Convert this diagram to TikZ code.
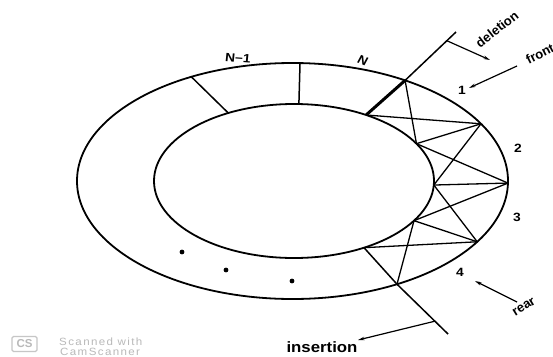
\documentclass[tikz,border=0pt]{standalone}
\usepackage{fontspec}
\setmainfont{Liberation Sans}
\usetikzlibrary{calc,arrows.meta}
\begin{document}
\begin{tikzpicture}[x=1pt,y=-1pt,
  ring/.style={line width=1.8pt},
  web/.style={line width=1.3pt},
  heavy/.style={line width=3pt},
  pointer/.style={line width=1.2pt,-{Stealth[length=6.5pt,width=3.4pt]}},
  lab/.style={font=\bfseries\fontsize{12}{12}\selectfont,xscale=1.15,inner sep=0pt},
  word/.style={font=\bfseries\fontsize{13}{13}\selectfont,inner sep=0pt},
  wmark/.style={gray!55,inner sep=0pt}]
\useasboundingbox (0,0) rectangle (553,356);
\fill[white] (0,0) rectangle (553,356);
% ring
\coordinate (co) at (292.5,181);
\coordinate (ci) at (294,181);
\draw[ring] (co) ellipse [x radius=215.5pt, y radius=118pt];
\draw[ring] (ci) ellipse [x radius=140pt, y radius=77pt];
% points on outer / inner ellipse
\coordinate (O0) at ($(co)+(58.5:215.5 and -118)$);
\coordinate (O1) at ($(co)+(29:215.5 and -118)$);
\coordinate (O2) at ($(co)+(-1:215.5 and -118)$);
\coordinate (O3) at ($(co)+(-31:215.5 and -118)$);
\coordinate (O4) at ($(co)+(-61:215.5 and -118)$);
\coordinate (I0) at ($(ci)+(59:140 and -77)$);
\coordinate (I1) at ($(ci)+(29:140 and -77)$);
\coordinate (I2) at ($(ci)+(-3:140 and -77)$);
\coordinate (I3) at ($(ci)+(-31:140 and -77)$);
\coordinate (I4) at ($(ci)+(-60:140 and -77)$);
\coordinate (Oa) at ($(co)+(118:215.5 and -118)$);
\coordinate (Ia) at ($(ci)+(118:140 and -77)$);
\coordinate (Ob) at ($(co)+(88:215.5 and -118)$);
\coordinate (Ib) at ($(ci)+(88:140 and -77)$);
% dividers
\draw[web,line width=1.5pt] (Oa) -- (Ia);
\draw[web,line width=1.5pt] (Ob) -- (Ib);
% lattice
\draw[heavy] (O0) -- (I0);
\draw[web] (O0) -- (I1);
\draw[web] (I0) -- (O1);
\draw[web] (I1) -- (O1);
\draw[web] (I1) -- (O2);
\draw[web] (O1) -- (I2);
\draw[web] (I2) -- (O2);
\draw[web] (I2) -- (O3);
\draw[web] (O2) -- (I3);
\draw[web] (I3) -- (O3);
\draw[web] (O3) -- (I4);
\draw[web] (I3) -- (O4);
% deletion line
\coordinate (Dend) at (456,32);
\draw[web,line width=1.5pt] (O0) -- (Dend);
\coordinate (Dt) at ($(O0)!0.82!(Dend)$);
\coordinate (Dh) at (490,60);
\draw[pointer] (Dt) -- (Dh);
% insertion line
\coordinate (Iend) at (448,334);
\draw[web,line width=1.5pt] (I4) -- (O4) -- (Iend);
\coordinate (It) at ($(I4)!0.85!(Iend)$);
\coordinate (Ih) at (358,340);
\draw[pointer] (It) -- (Ih);
% front / rear pointers
\coordinate (Fs) at (517,66);
\coordinate (Fh) at (469,88);
\draw[pointer] (Fs) -- (Fh);
\coordinate (Rs) at (517,302);
\coordinate (Rh) at (475,281);
\draw[pointer] (Rs) -- (Rh);
% dots
\fill (182,252) circle (2.4pt);
\fill (226,270) circle (2.4pt);
\fill (292,281) circle (2.4pt);
% labels
\node[lab,rotate=-5] (lNm1) at (238,58) {N–1};
\node[lab,rotate=-25] (lN) at (363,61) {N};
\node[lab] (l1) at (462,90) {1};
\node[lab] (l2) at (518,148) {2};
\node[lab] (l3) at (517,217) {3};
\node[lab] (l4) at (460,272) {4};
\node[word,rotate=38] (ldel) at (497,29) {deletion};
\node[word,rotate=27] (lfront) at (540,54) {front};
\node[word,rotate=32] (lrear) at (524,307) {rear};
\node[word,font=\bfseries\fontsize{15}{15}\selectfont,xscale=1.12] (lins) at (322,347) {insertion};
% watermark
\node[wmark,draw=gray!45,line width=1.3pt,rounded corners=1.5pt,minimum width=25pt,minimum height=15pt,font=\bfseries\fontsize{11.5}{11.5}\selectfont] (cs) at (24.5,344) {CS};
\node[wmark,anchor=west,font=\fontsize{10.5}{10.5}\selectfont\addfontfeature{LetterSpace=12},xscale=1.1] (sw) at (59,342) {Scanned\ with};
\node[wmark,anchor=west,font=\fontsize{10.5}{10.5}\selectfont\addfontfeature{LetterSpace=12},xscale=1.1] (csn) at (60,352) {CamScanner};
\end{tikzpicture}
\end{document}
